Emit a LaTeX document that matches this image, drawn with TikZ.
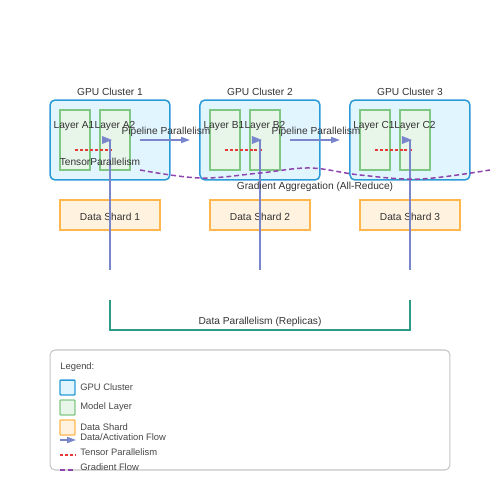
\documentclass[tikz,border=0pt]{standalone}
\usepackage{fontspec}
\setmainfont{Liberation Sans}
\usetikzlibrary{arrows.meta,positioning}
\definecolor{clusterblue}{HTML}{2A9BD8}
\definecolor{clusterfill}{HTML}{E1F5FE}
\definecolor{layergreen}{HTML}{81C784}
\definecolor{layerfill}{HTML}{E8F5E9}
\definecolor{shardorange}{HTML}{FFB74D}
\definecolor{shardfill}{HTML}{FFF3E0}
\definecolor{flowblue}{HTML}{7986CB}
\definecolor{tensorred}{HTML}{E53935}
\definecolor{gradpurple}{HTML}{8E44AD}
\definecolor{replicateal}{HTML}{2E9A88}
\definecolor{legendgray}{HTML}{C4C4C4}
\definecolor{txt}{HTML}{333333}
\tikzset{
    cluster/.style={draw=clusterblue, fill=clusterfill, line width=0.85pt, rounded corners=0.1cm,
        minimum width=2.4cm, minimum height=1.6cm},
    layer/.style={draw=layergreen, fill=layerfill, line width=0.8pt,
        minimum width=0.6cm, minimum height=1.2cm},
    shard/.style={draw=shardorange, fill=shardfill, line width=0.8pt,
        minimum width=2cm, minimum height=0.6cm},
    lbl/.style={text=txt, inner sep=0pt, font=\fontsize{5.8}{6.9}\selectfont},
    lgtxt/.style={text=txt!90!white, inner sep=0pt, anchor=west, font=\fontsize{5.35}{6.4}\selectfont},
    flow/.style={draw=flowblue, line width=0.85pt},
    flowarrow/.style={flow, -{Triangle[length=5pt,width=3.4pt]}},
    tensor/.style={draw=tensorred, line width=0.85pt, dash pattern=on 1.7pt off 1.1pt},
    grad/.style={draw=gradpurple, line width=0.85pt, dash pattern=on 2.8pt off 1.7pt},
    replica/.style={draw=replicateal, line width=1.1pt},
}
\begin{document}
\begin{tikzpicture}[x=0.02cm, y=-0.02cm]
    \useasboundingbox (0,0) rectangle (500,500);
    \foreach \i/\m in {1/A,2/B,3/C} {
        \begin{scope}[xshift=(\i-1)*3cm]
            \node[cluster] (c\i) at (110,140) {};
            \node[lbl] (t\i) at (110,91.5) {GPU Cluster \i};
            \node[layer] (\m1) at (75,140) {};
            \node[layer] (\m2) at (115,140) {};
            \node[lbl] (\m1l) at (74,126.5) {Layer \m1};
            \node[lbl] (\m2l) at (115,126.5) {Layer \m2};
            \coordinate (\m1tp) at (75,150);
            \coordinate (\m2tp) at (113,150);
            \draw[tensor] (\m1tp) -- (\m2tp);
            \node[shard] (s\i) at (110,215) {};
            \node[lbl] (s\i l) at (110,216.5) {Data Shard \i};
            \coordinate (d\i) at (110,270);
            \coordinate (h\i) at (110,140);
            \draw[flow] (d\i) -- (h\i);
            \fill[flowblue] ([xshift=0.04cm]h\i) -- ++(-10,-4) -- ++(0,8) -- cycle;
        \end{scope}
    }
    \node[lbl] (tp) at (100,161.5) {TensorParallelism};
    \draw[grad] plot[smooth, tension=0.6] coordinates {(140,170) (200,178) (260,173) (310,168)
        (360,175) (420,179) (490,170)};
    \node[lbl] (ga) at (315,186.5) {Gradient Aggregation (All-Reduce)};
    \foreach \i in {1,2} {
        \begin{scope}[xshift=(\i-1)*3cm]
            \coordinate (pp\i) at (140,140);
            \coordinate (pq\i) at (190,140);
            \draw[flowarrow] (pp\i) -- (pq\i);
            \node[lbl] (pl\i) at (166,131.5) {Pipeline Parallelism};
        \end{scope}
    }
    \coordinate (r1) at (110,300);
    \coordinate (r2) at (110,330);
    \coordinate (r3) at (410,330);
    \coordinate (r4) at (410,300);
    \draw[replica] (r1) -- (r2) -- (r3) -- (r4);
    \node[lbl] (dp) at (260,321.5) {Data Parallelism (Replicas)};
    \node[draw=legendgray, line width=0.6pt, rounded corners=0.1cm, minimum width=8cm,
        minimum height=2.4cm] (lg) at (250,410) {};
    \node[lgtxt] (lgt) at (60,367) {Legend:};
    \foreach \s/\y/\t [count=\k] in {cluster/387.5/GPU Cluster, layer/407.5/Model Layer,
        shard/427.5/Data Shard} {
        \node[\s, minimum width=0.3cm, minimum height=0.3cm, rounded corners=0.5pt] (k\k) at (67.5,\y) {};
        \node[lgtxt] (k\k t) at (80,\y-0.5) {\t};
    }
    \coordinate (f1) at (60,440);
    \coordinate (f2) at (76,440);
    \draw[flowarrow] (f1) -- (f2);
    \node[lgtxt] (ft) at (80,437) {Data/Activation Flow};
    \coordinate (e1) at (60,455);
    \coordinate (e2) at (75,455);
    \draw[tensor] (e1) -- (e2);
    \node[lgtxt] (et) at (80,452) {Tensor Parallelism};
    \coordinate (g1) at (60,470);
    \coordinate (g2) at (75,470);
    \draw[grad] (g1) -- (g2);
    \node[lgtxt] (gt) at (80,467) {Gradient Flow};
\end{tikzpicture}
\end{document}
